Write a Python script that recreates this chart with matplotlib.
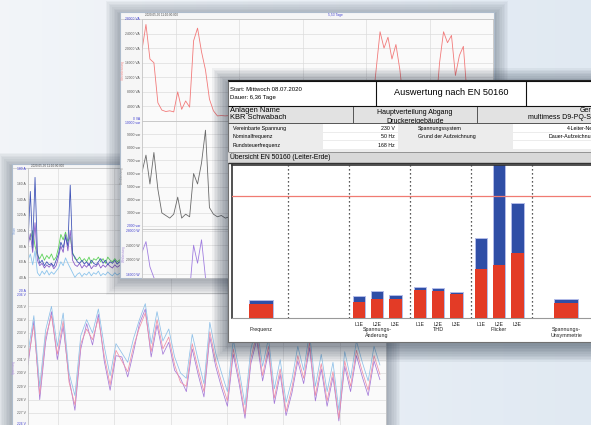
import numpy as np
import matplotlib.pyplot as plt
from matplotlib.patches import Rectangle

plt.rcParams['font.family'] = ['Liberation Sans', 'DejaVu Sans']

# --- EN 50160 overview (front window), values in % of the limit ---
GROUPS = ['Frequenz', '', 'Spannungs-\nÄnderung', 'THD', 'Flicker', 'Spannungs-\nUnsymmetrie']
BAR_GROUP = [0, 2, 2, 2, 3, 3, 3, 4, 4, 4, 5]
BAR_PHASE = ['', 'L1E', 'L2E', 'L3E', 'L1E', 'L2E', 'L3E', 'L1E', 'L2E', 'L3E', '']
P95 = [11.7, 13.4, 15.5, 15.5, 22.6, 21.8, 19.6, 39.8, 43.6, 53.4, 12.0]
PMAX = [14.4, 18.0, 22.3, 18.8, 25.3, 24.5, 21.5, 65.4, 130.0, 94.3, 15.3]
LIMIT = 100

# --- power recording (middle window), one value every 1.5 h ---
A_STEP = 1.5
A_S_KVA = [19.5, 26.5, 17.0, 16.0, 5.0, 3.0, 2.6, 2.8, 2.5, 8.0,
           3.2, 5.5, 3.8, 22.0, 25.5, 19.0, 14.0, 6.0, 2.8, 1.4,
           1.5, 1.4, 1.5, 1.6, 1.4, 1.5, 1.7, 4.5, 6.0, 3.5,
           5.0, 2.0, 1.5, 1.4, 1.6, 1.5, 1.4, 1.5, 1.6, 1.5,
           3.0, 5.5, 4.0, 6.5, 2.5, 1.6, 1.5, 1.4, 1.5, 1.6,
           1.4, 1.5, 1.5, 1.6, 1.4, 1.5, 1.6, 1.5, 3.0, 14.0,
           24.5, 20.0, 23.0, 17.0, 21.0, 14.0, 4.0, 2.0, 1.6, 1.5,
           1.5, 1.4, 1.6, 1.5, 2.5, 16.0, 24.5, 21.5, 23.5, 12.5,
           18.0, 20.5, 6.0, 2.0, 1.5, 1.6, 1.4, 1.5, 1.6]
A_Q_KVAR = [6.1, 7.4, 5.2, 7.6, 4.8, 3.0, 2.8, 2.6, 2.9, 4.2,
            2.6, 2.9, 2.7, 6.0, 5.2, 6.8, 9.3, 3.4, 2.9, 2.7,
            2.8, 2.6, 2.7, 2.8, 2.6, 2.7, 2.9, 4.5, 5.2, 4.0,
            4.8, 3.0, 2.7, 2.6, 2.8, 2.7, 2.6, 2.7, 2.8, 2.7,
            3.6, 4.6, 4.1, 5.0, 3.1, 2.8, 2.7, 2.6, 2.7, 2.8,
            2.6, 2.7, 2.7, 2.8, 2.6, 2.7, 2.8, 2.7, 3.4, 6.2,
            7.8, 6.9, 7.4, 6.1, 7.0, 5.6, 3.2, 2.8, 2.7, 2.6,
            2.7, 2.6, 2.8, 2.7, 3.1, 6.4, 7.9, 7.1, 7.6, 5.4,
            6.6, 7.0, 3.4, 2.8, 2.6, 2.7, 2.6, 2.7, 2.8]
A_P_KW = [22.0, 25.0, 18.0, 15.0, 13.0, 11.5, 11.0, 11.2, 10.8, 12.5,
          11.0, 11.4, 11.2, 24.0, 19.0, 25.5, 15.0, 13.0, 11.0, 10.6,
          10.8, 10.5, 10.7, 10.6, 10.8, 10.5, 10.9, 13.0, 14.0, 12.5,
          13.5, 11.2, 10.7, 10.5, 10.8, 10.6, 10.5, 10.7, 10.8, 10.6,
          12.0, 13.8, 12.6, 14.2, 11.4, 10.8, 10.6, 10.5, 10.7, 10.8,
          10.5, 10.6, 10.7, 10.8, 10.5, 10.6, 10.8, 10.6, 12.0, 22.5,
          25.0, 21.0, 24.0, 19.5, 23.0, 17.0, 12.0, 11.0, 10.7, 10.6,
          10.7, 10.5, 10.8, 10.6, 11.5, 21.5, 25.2, 22.0, 24.5, 16.0,
          20.5, 23.0, 12.5, 11.0, 10.6, 10.7, 10.5, 10.6, 10.8]

# --- currents, one value per hour (back window) ---
B_I_L1 = [85, 150, 78, 168, 72, 58, 62, 55, 60, 56, 58, 54, 62, 70, 85, 78, 92, 80, 158, 70, 66,
          60, 58, 62, 57, 60, 55, 62, 58, 56, 60, 64, 58, 62, 56, 60, 58, 62, 57, 60, 58, 61]
B_I_L2 = [92, 88, 100, 80, 68, 64, 70, 62, 68, 64, 70, 62, 66, 78, 95, 88, 98, 86, 92, 72, 64,
          62, 66, 60, 64, 60, 66, 58, 64, 62, 66, 60, 64, 58, 66, 62, 60, 64, 60, 62, 65, 61]
B_I_L3 = [80, 96, 72, 110, 62, 55, 58, 52, 56, 53, 57, 51, 55, 66, 80, 72, 95, 74, 100, 62, 56,
          54, 58, 52, 56, 53, 58, 51, 55, 54, 58, 52, 56, 53, 57, 54, 52, 56, 53, 55, 57, 54]
B_I_N = [62, 70, 56, 74, 46, 42, 48, 44, 49, 43, 47, 44, 48, 52, 60, 55, 65, 58, 52, 46, 40,
         44, 46, 41, 45, 43, 47, 42, 46, 44, 48, 42, 45, 43, 47, 44, 42, 46, 43, 45, 44, 46]

# --- voltages, one value every 2.5 h (back window) ---
B_V_STEP = 2.5
B_V_L1 = [231.5, 234.3, 229.0, 233.2, 235.0, 232.0, 234.5, 230.0, 228.3, 232.8,
          234.0, 233.0, 234.8, 232.0, 229.8, 232.2, 231.5, 230.8, 232.6, 234.0,
          235.2, 232.2, 234.6, 232.4, 233.3, 231.2, 230.0, 229.6, 232.9, 231.0,
          229.2, 233.8, 231.5, 230.0, 228.6, 232.5, 230.2, 227.6, 231.8, 233.5,
          230.5, 232.6, 228.8, 231.0, 227.8, 229.5, 232.0, 230.2, 233.0, 229.0,
          231.4, 228.6, 230.8, 227.2, 231.6, 229.6, 232.4, 230.8, 229.4, 232.0, 230.6]
B_V_L2 = [231.0, 233.6, 228.4, 232.7, 234.3, 231.4, 233.9, 229.3, 227.6, 232.2,
          233.3, 232.5, 234.1, 231.3, 229.1, 231.7, 230.9, 230.1, 232.0, 233.4,
          234.5, 231.6, 234.0, 231.8, 232.7, 230.6, 229.3, 229.0, 232.2, 230.3,
          228.6, 233.1, 230.9, 229.3, 227.9, 231.8, 229.6, 226.9, 231.1, 232.9,
          229.8, 232.0, 228.1, 230.3, 227.1, 228.9, 231.3, 229.6, 232.3, 228.3,
          230.7, 227.9, 230.1, 226.6, 230.9, 229.0, 231.7, 230.1, 228.7, 231.3, 229.9]
B_V_L3 = [230.6, 233.9, 228.0, 232.3, 234.6, 231.0, 233.5, 229.6, 227.2, 231.8,
          233.7, 232.1, 234.4, 230.9, 228.7, 231.3, 231.2, 229.7, 231.6, 233.7,
          234.8, 231.2, 233.6, 231.4, 232.3, 230.2, 229.6, 228.6, 231.8, 229.9,
          228.2, 232.7, 230.5, 228.9, 227.5, 231.4, 229.2, 226.6, 230.7, 232.5,
          229.4, 231.6, 227.7, 229.9, 226.8, 228.5, 230.9, 229.2, 231.9, 227.9,
          230.3, 227.5, 229.7, 226.4, 230.5, 228.6, 231.3, 229.7, 228.3, 230.9, 229.5]

W, H = 591, 425
BLUE_TXT = '#3f3fd0'
fig = plt.figure(figsize=(W / 100, H / 100), dpi=100)


def box(x0, y0, x1, y1):
    return [x0 / W, 1 - y1 / H, (x1 - x0) / W, (y1 - y0) / H]


def shadow(x0, y0, x1, y1, z, n=10, dy=3, alpha=0.04):
    for k in range(n):
        s = 1.6 * k
        fig.add_artist(Rectangle(((x0 - s) / W, 1 - (y1 + s + dy) / H),
                                 (x1 - x0 + 2 * s) / W, (y1 - y0 + 2 * s) / H,
                                 transform=fig.transFigure, facecolor='#1c2a3c',
                                 alpha=alpha, lw=0, zorder=z))


def window(x0, y0, x1, y1, z, face='#f6f6f6', edge='#aebccc'):
    ax = fig.add_axes(box(x0, y0, x1, y1), zorder=z)
    ax.set_xlim(x0, x1)
    ax.set_ylim(y1, y0)
    ax.set_facecolor(face)
    ax.set_xticks([])
    ax.set_yticks([])
    for s in ax.spines.values():
        s.set_color(edge)
        s.set_linewidth(0.8)
    return ax


def panel(rect, z, hours, ticks, unit, ylim, label, lcolor):
    ax = fig.add_axes(box(*rect), zorder=z)
    ax.set_facecolor('#fafafa')
    ax.set_xlim(0, hours)
    ax.set_ylim(*ylim)
    ax.set_xticks(np.arange(12.83, hours, 24))  # midnight grid
    ax.set_xticklabels([])
    ax.set_yticks(list(ticks), [f'{t} {unit}' for t in ticks])
    ax.tick_params(length=0, labelsize=2.4, pad=1.5, labelcolor='#555')
    labs = ax.get_yticklabels()
    labs[0].set_color(BLUE_TXT)
    labs[-1].set_color(BLUE_TXT)
    ax.grid(color='#dcdcdc', lw=0.5)
    ax.set_ylabel(label, fontsize=2.2, color=lcolor, labelpad=0.5)
    for s in ax.spines.values():
        s.set_color('#c4c4c4')
        s.set_linewidth(0.6)
    return ax


# desktop background
bg = fig.add_axes([0, 0, 1, 1], zorder=0)
c0 = np.array([0.95, 0.96, 0.975])
c1 = np.array([0.88, 0.915, 0.95])
grad = np.linspace(0, 1, 200)
bg.imshow(c0 + (c1 - c0) * grad[None, :, None], aspect='auto', extent=[0, 1, 0, 1])
bg.axis('off')

# ---------- back window: currents and voltages ----------
shadow(12, 164, 386, 440, 0.5)
wb = window(12, 164, 386, 440, 1)
wb.axhline(168, color='#c8c8c8', lw=0.5)
wb.text(31, 166.2, '2020-05-06 11:10:00.000', fontsize=2.2, va='center', color='#444')

b1 = panel((28, 168, 386, 293), 1.1, 152.6, range(20, 181, 20), 'A', (20, 180), 'Strom', '#7f9fd6')
b1.get_yticklabels()[0].set_va('bottom')
t1 = np.arange(len(B_I_L1)) * 1.0
b1.plot(t1, B_I_N, color='#8cc4ec', lw=0.6)
b1.plot(t1, B_I_L2, color='#5ed35a', lw=0.6)
b1.plot(t1, B_I_L3, color='#8a5cc8', lw=0.6)
b1.plot(t1, B_I_L1, color='#4256b8', lw=0.6)

b2 = panel((28, 293, 386, 440), 1.1, 152.6, range(226, 237), 'V', (224.97, 236.0), 'Spannung', '#b090d8')
b2.get_yticklabels()[-1].set_va('top')
b2.get_yticklabels()[0].set_va('bottom')
t2 = np.arange(len(B_V_L1)) * B_V_STEP
b2.plot(t2, B_V_L3, color='#a47ad8', lw=0.55)
b2.plot(t2, B_V_L2, color='#ef8fa6', lw=0.55)
b2.plot(t2, B_V_L1, color='#8ec0e8', lw=0.55)

# ---------- middle window: power ----------
shadow(120, 12, 494, 278, 1.5)
wa = window(120, 12, 494, 278, 2)
wa.axhline(18.5, color='#c8c8c8', lw=0.5)
wa.text(145, 15.3, '2020-05-06 11:10:00.000', fontsize=2.2, va='center', color='#444')
wa.text(335, 15.3, '5,53 Tage', fontsize=2.4, va='center', ha='center', color=BLUE_TXT)

ta = np.arange(len(A_S_KVA)) * A_STEP
a1 = panel((142, 19, 493, 121), 2.1, 132.7, range(0, 28001, 4000), 'VA', (0, 28000),
           'Scheinleistung', '#f08a8a')
a1.get_yticklabels()[0].set_va('bottom')
a1.plot(ta, np.array(A_S_KVA) * 1000, color='#f27a7a', lw=0.6)

a2 = panel((142, 121, 493, 229), 2.1, 132.7, range(2000, 10001, 1000), 'var', (1770, 10000),
           'Blindleistung', '#888888')
a2.get_yticklabels()[-1].set_va('top')
a2.plot(ta, np.array(A_Q_KVAR) * 1000, color='#6a6a6a', lw=0.6)

a3 = panel((142, 229, 493, 278), 2.1, 132.7, range(16000, 28001, 4000), 'W', (14900, 28500),
           'Wirkleistung', '#a58ad8')
a3.plot(ta, np.array(A_P_KW) * 1000, color='#a17ee0', lw=0.6)

# ---------- front window: EN 50160 report ----------
shadow(228, 80, 600, 342, 2.5, n=11, dy=4, alpha=0.05)
wc = window(228, 80, 600, 342, 3, face='white', edge='#707070')
wc.spines['top'].set_color('#222')

# row 2: plant / field / device
wc.add_patch(Rectangle((228, 105.5), 372, 17, fc='#e2e2e2', ec='none', zorder=1))
wc.vlines([353, 477], 105.5, 122.5, color='#555', lw=0.7, zorder=4)
wc.text(230, 110, 'Anlagen Name', fontsize=5.4, va='center', zorder=2)
wc.text(230, 117.5, 'KBR Schwabach', fontsize=5.4, va='center', zorder=2)
wc.text(415, 104.5, 'Feld', fontsize=5.0, ha='center', va='center', zorder=2)
wc.text(415, 112.5, 'Hauptverteilung Abgang', fontsize=5.0, ha='center', va='center', zorder=2)
wc.text(415, 121.5, 'Druckereigebäude', fontsize=5.0, ha='center', va='center', zorder=2)
wc.text(580, 110, 'Gerät', fontsize=5.0, va='center', zorder=2)
wc.text(528, 117.5, 'multimess D9-PQ-Screen', fontsize=5.0, va='center', zorder=2)

# header row
wc.add_patch(Rectangle((228, 80), 372, 25.5, fc='white', ec='none', zorder=2.5))
wc.hlines([80.6, 105.5], 228, 600, color='#111', lw=0.8, zorder=4)
wc.vlines([376, 526], 80.6, 105.5, color='#111', lw=0.8, zorder=4)
wc.text(230, 89, 'Start: Mittwoch 08.07.2020', fontsize=4.3, va='center', zorder=3)
wc.text(230, 97, 'Dauer: 6,36 Tage', fontsize=4.3, va='center', zorder=3)
wc.text(451, 92.5, 'Auswertung nach EN 50160', fontsize=6.6, ha='center', va='center', zorder=3)

# nominal values block
wc.add_patch(Rectangle((228, 122.5), 372, 29, fc='#ececec', ec='none', zorder=2.5))
wc.hlines(122.5, 228, 600, color='#555', lw=0.7, zorder=4)
rows = [('Vereinbarte Spannung', '230 V', 'Spannungssystem', '4-Leiter-Netz'),
        ('Nominalfrequenz', '50 Hz', 'Grund der Aufzeichnung', 'Dauer-Aufzeichnung'),
        ('Rundsteuerfrequenz', '168 Hz', '', '')]
for i, (k1, v1, k2, v2) in enumerate(rows):
    yc = 128 + 8.6 * i
    wc.add_patch(Rectangle((323, yc - 3.8), 75, 7.4, fc='white', ec='none', zorder=2.6))
    wc.add_patch(Rectangle((513, yc - 3.8), 90, 7.4, fc='white', ec='none', zorder=2.6))
    wc.text(233, yc, k1, fontsize=3.8, va='center', zorder=3)
    wc.text(395, yc, v1, fontsize=3.8, va='center', ha='right', zorder=3)
    wc.text(418, yc, k2, fontsize=3.8, va='center', zorder=3)
    wc.text(597, yc, v2, fontsize=3.8, va='center', ha='right', zorder=3)

# overview strip
wc.add_patch(Rectangle((228, 151.5), 372, 11.5, fc='#d8d8d8', ec='none', zorder=2.6))
wc.hlines(151.5, 228, 600, color='#888', lw=0.6, zorder=4)
wc.hlines(163, 228, 600, color='#333', lw=1.0, zorder=4)
wc.text(229.5, 157.3, 'Übersicht EN 50160 (Leiter-Erde)', fontsize=4.9, va='center', zorder=3)

# bar chart, one unit per group
ch = fig.add_axes(box(232, 165, 600, 318), zorder=3.1)
ch.set_xlim(5 / 61, 373 / 61)
ch.set_ylim(0, 125.4)
ch.set_facecolor('white')
ch.set_yticks([])
for side, col, lw in [('left', '#333', 1.2), ('top', '#333', 1.2), ('bottom', '#999', 0.8)]:
    ch.spines[side].set_color(col)
    ch.spines[side].set_linewidth(lw)
ch.spines['right'].set_visible(False)

xs, widths = [], []
for i, g in enumerate(BAR_GROUP):
    n = BAR_GROUP.count(g)
    k = BAR_GROUP[:i].count(g)
    offs = [0.56] if n == 1 else [0.164, 0.459, 0.762]
    xs.append(g + offs[k])
    widths.append(0.39 if n == 1 else 0.205)

ch.bar(xs, PMAX, width=widths, color='#2f4ea6', edgecolor='#b3bce8', lw=0.7, zorder=2)
ch.bar(xs, P95, width=widths, color='#e33b26', lw=0, zorder=3)
ch.axhline(LIMIT, color='#f07b72', lw=0.9, zorder=4)
for g in range(1, len(GROUPS)):
    ch.axvline(g, color='#222', lw=0.9, ls=(0, (1, 2.2)), zorder=1)

tick_x = [x for x, p in zip(xs, BAR_PHASE) if p]
ch.set_xticks(tick_x, [p for p in BAR_PHASE if p])
ch.tick_params(axis='x', length=0, labelsize=3.7, pad=2.6, labelcolor='#222')

for g, name in enumerate(GROUPS):
    if not name:
        continue
    n = BAR_GROUP.count(g)
    gx = g + (0.56 if n == 1 else 0.459)
    ch.text(gx, -0.062, name, transform=ch.get_xaxis_transform(), ha='center', va='top',
            fontsize=3.9, linespacing=1.05, color='#222')

fig.savefig('out.png', dpi=100)
